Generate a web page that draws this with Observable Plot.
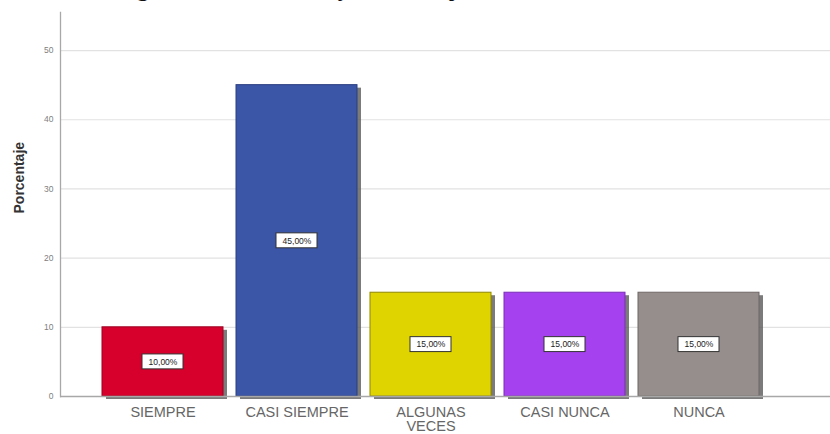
<!DOCTYPE html>
<html><head><meta charset="utf-8">
<script src="https://cdn.jsdelivr.net/npm/d3@7"></script>
<script src="https://cdn.jsdelivr.net/npm/@observablehq/plot@0.6"></script>
<style>
html,body{margin:0;padding:0;background:#fff;overflow:hidden;}
#wrap{position:relative;width:830px;height:434px;overflow:hidden;}
#title{position:absolute;left:115px;top:-25.8px;font:bold 24.5px/28px "Liberation Serif","Times New Roman",serif;color:#111;white-space:nowrap;}
#chart{position:absolute;left:0;top:0;}
</style></head>
<body><div id="wrap"><div id="chart"></div><div id="title">Figura 3. Frecuencia y Porcentaje del Medio Ambiente</div></div>
<script>
const categories = ["SIEMPRE", "CASI SIEMPRE", "ALGUNAS\nVECES", "CASI NUNCA", "NUNCA"];
const percentages = [10, 45, 15, 15, 15];
const valueLabels = ["10,00%", "45,00%", "15,00%", "15,00%", "15,00%"];
const barColors = ["#d7002c", "#3b55a7", "#dfd300", "#a641ef", "#968e8c"];
const barStrokes = ["#9e0020", "#2a3f80", "#8f8700", "#7a2fb5", "#6e6766"];
const yTicks = [0, 10, 20, 30, 40, 50];
const yAxisTitle = "Porcentaje";

const data = categories.map((c, i) => ({cat: c, v: percentages[i], label: valueLabels[i], color: barColors[i], stroke: barStrokes[i]}));
const boxHalf = 1.08; // half label-box height in data units

const chart = Plot.plot({
  width: 830,
  height: 434,
  marginLeft: 60,
  marginRight: 0,
  marginTop: 12,
  marginBottom: 38,
  style: {background: "#fff", fontFamily: "'Liberation Sans', Arial, sans-serif"},
  x: {domain: categories, range: [95.3, 765.3], paddingInner: 0.1, paddingOuter: 0.05},
  y: {domain: [0, 55.5]},
  marks: [
    Plot.ruleY(yTicks.filter(d => d > 0), {stroke: "#e2e2e2", strokeWidth: 1.2}),
    Plot.barY(data, {x: "cat", y: "v", fill: "#5a5a5a", fillOpacity: 0.8, dx: 4, dy: 3}),
    Plot.barY(data, {x: "cat", y: "v", fill: "color", stroke: "stroke", strokeWidth: 1}),
    Plot.ruleY([0], {stroke: "#a8a8a8", strokeWidth: 1.3}),
    Plot.frame({anchor: "left", stroke: "#a8a8a8", strokeWidth: 1.3}),
    Plot.barY(data, {x: "cat", y1: d => d.v / 2 - boxHalf, y2: d => d.v / 2 + boxHalf, insetLeft: 40, insetRight: 40, fill: "white", stroke: "#333", strokeWidth: 1}),
    Plot.text(data, {x: "cat", y: d => d.v / 2, text: "label", fontSize: 8.5, fill: "#222"}),
    Plot.axisY({ticks: yTicks, tickSize: 0, tickPadding: 7, fontSize: 8.5, fill: "#808080", label: null}),
    Plot.axisX({tickSize: 0, tickPadding: 10, fontSize: 14.5, fill: "#666", lineHeight: 1, label: null}),
    Plot.text([yAxisTitle], {frameAnchor: "left", rotate: -90, dx: -40.5, dy: 9, fontSize: 14, fontWeight: "bold", fill: "#333"})
  ]
});
document.getElementById("chart").appendChild(chart);
</script>
</body></html>
